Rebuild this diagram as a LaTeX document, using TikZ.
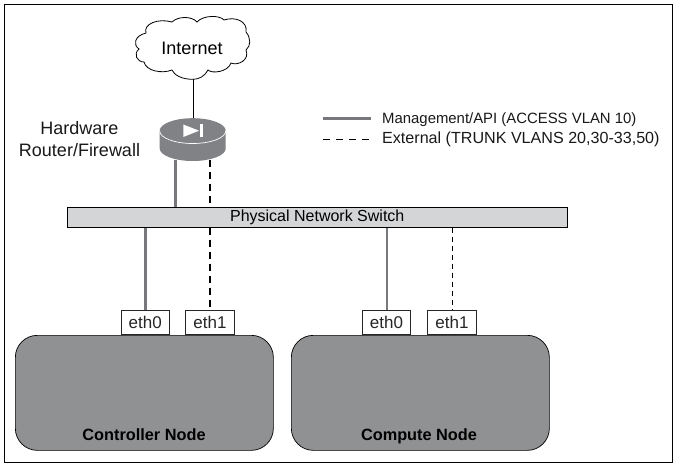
\documentclass[tikz,border=0pt]{standalone}
\usepackage{fontspec}
\setmainfont{Liberation Sans}
\definecolor{gnode}{HTML}{909193}
\definecolor{grouter}{HTML}{808285}
\definecolor{gline}{HTML}{77787B}
\definecolor{gswitch}{HTML}{D4D5D6}
\tikzset{
  x=1pt,y=-1pt,
  lbl/.style={inner sep=0pt,text=black!90},
  port/.style={draw=black!85,fill=white,line width=0.7pt,minimum width=48.5pt,minimum height=24.5pt,inner sep=0pt,font=\fontsize{17}{18}\selectfont,text=black!85,anchor=south},
  hostbox/.style={draw=black,fill=gnode,line width=0.7pt,rounded corners=22pt,minimum width=258pt,minimum height=115pt,inner sep=0pt,anchor=north west},
  hostname/.style={inner sep=0pt,anchor=base,font=\fontsize{16.3}{18}\selectfont\bfseries},
  mgmt/.style={draw=gline,line width=2.8pt},
  extlink/.style={draw=black,line width=1.8pt,dash pattern=on 7pt off 5pt},
  thinmgmt/.style={draw=gline,line width=2pt},
  thinext/.style={draw=black,line width=1pt,dash pattern=on 5.5pt off 3.5pt},
}
\begin{document}
\begin{tikzpicture}
\useasboundingbox (0,0) rectangle (674,465);
\fill[white] (0,0) rectangle (674,465);
\node[draw=black,line width=1pt,minimum width=668pt,minimum height=457.5pt,inner sep=0pt,anchor=north west] (frame) at (3.5,4.3) {};

% cloud
\coordinate (cloudb) at (193.3,79.3);
\coordinate (rtrtop) at (193.3,118);
\draw[line width=0.8pt,fill=white]
 (cloudb) .. controls (182,79.5) and (174,75) .. (172,70)
 .. controls (162,74) and (146,71) .. (144,62)
 .. controls (137,62) and (133,54) .. (139,49)
 .. controls (133,45) and (134,36) .. (146,33)
 .. controls (143,24) and (158,18) .. (172,22)
 .. controls (178,16) and (192,16) .. (197,22)
 .. controls (203,15) and (220,15) .. (224,20)
 .. controls (236,16) and (248,22) .. (246,32)
 .. controls (251,38) and (251,46) .. (246,50)
 .. controls (250,60) and (238,66) .. (231,63)
 .. controls (228,72) and (212,74) .. (208,70)
 .. controls (205,76) and (199,79.3) .. (cloudb) -- cycle;
\node[inner sep=0pt,font=\fontsize{18}{20}\selectfont] (inet) at (192,48) {Internet};
\draw[line width=0.9pt] (cloudb) -- (rtrtop);

% router
\fill[grouter] (159.7,130.7) -- (159.7,148.5)
  .. controls (159.7,155.4) and (174.5,161) .. (192.7,161)
  .. controls (210.9,161) and (225.7,155.4) .. (225.7,148.5)
  -- (225.7,130.7)
  .. controls (225.7,123.8) and (210.9,118.2) .. (192.7,118.2)
  .. controls (174.5,118.2) and (159.7,123.8) .. (159.7,130.7) -- cycle;
\draw[white,line width=0.7pt] (159.7,131)
  .. controls (159.7,137.9) and (174.5,143.5) .. (192.7,143.5)
  .. controls (210.9,143.5) and (225.7,137.9) .. (225.7,131);
\fill[white] (183.3,124.5) -- (183.3,137) -- (199,130.7) -- cycle;
\fill[white] (200,124.5) rectangle (202.5,137);
\coordinate (rtrm) at (175.7,160.5);
\coordinate (rtre) at (210,160);

\node[lbl,align=center,font=\fontsize{18}{21.5}\selectfont] (rtrlabel) at (79.5,139) {Hardware\\Router/Firewall};

% switch
\node[draw=black,line width=0.5pt,fill=gswitch,minimum width=500pt,minimum height=20pt,inner sep=0pt,anchor=north west,font=\fontsize{16}{18}\selectfont] (switch) at (67,207) {Physical Network Switch};

% hosts
\node[hostbox] (ctrl) at (15,335) {};
\node[hostbox] (comp) at (291,335) {};
\node[hostname] (ctrlname) at (144,440) {Controller Node};
\node[hostname] (compname) at (419,440) {Compute Node};

% ports
\node[port] (c0) at (145.2,335) {eth0};
\node[port] (c1) at (210,335) {eth1};
\node[port] (n0) at (386.5,335) {eth0};
\node[port] (n1) at (452,335) {eth1};

% links
\draw[mgmt] (rtrm) -- (rtrm |- switch.north);
\draw[extlink] (rtre) -- (rtre |- switch.north);
\draw[mgmt] (c0.north |- switch.south) -- (c0.north);
\draw[extlink] (c1.north |- switch.south) -- (c1.north);
\draw[thinmgmt] (n0.north |- switch.south) -- (n0.north);
\draw[thinext] (n1.north |- switch.south) -- (n1.north);

% legend
\coordinate (la) at (323,118.3);
\coordinate (lb) at (371,118.3);
\coordinate (lc) at (323,139);
\coordinate (ld) at (371,139);
\draw[draw=gline,line width=3pt] (la) -- (lb);
\draw[line width=0.8pt,dash pattern=on 7pt off 6pt] (lc) -- (ld);
\node[lbl,anchor=base west,font=\fontsize{14.9}{16}\selectfont] (l1) at (382,123.3) {Management/API (ACCESS VLAN 10)};
\node[lbl,anchor=base west,font=\fontsize{16.1}{17}\selectfont] (l2) at (382,143.5) {External (TRUNK VLANS 20,30-33,50)};
\end{tikzpicture}
\end{document}
